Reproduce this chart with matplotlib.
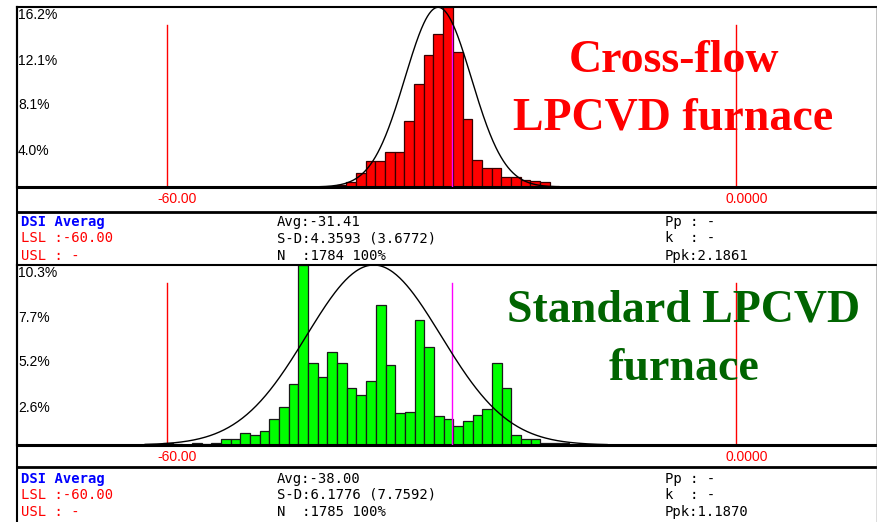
import numpy as np
import matplotlib
matplotlib.use("Agg")
import matplotlib.pyplot as plt
from matplotlib.lines import Line2D

W, H = 878, 522

bin_width = 1.02
x_min, x_max = -75.82, 14.87
target = -30.0
spec_vals = [-60.0, 0.0]
spec_labels = ["-60.00", "0.0000"]

# cross-flow furnace, % per bin
top_start = -42.1
top_pct = [0.14, 0.42, 1.29, 2.37, 2.37, 3.12, 3.12, 5.91, 9.27, 11.94, 13.77, 16.2,
           12.18, 6.15, 2.40, 1.68, 1.68, 0.93, 0.93, 0.60, 0.51, 0.45, 0.09]
top_ymax = 16.2
top_yticks = [16.2, 12.1, 8.1, 4.0]
top_mu, top_sd = -31.41, 3.5
top_curve_range = (-44.1, -18.6)

# standard furnace, % per bin
bot_start = -62.46
bot_pct = [0.06, 0.06, 0.11, 0.06, 0.0, 0.11, 0.06, 0.11, 0.32, 0.32, 0.67, 0.57,
           0.80, 1.49, 2.19, 3.49, 10.3, 4.71, 3.87, 5.32, 4.71, 3.28, 2.88, 3.64,
           8.01, 4.58, 1.81, 1.89, 7.17, 5.63, 1.68, 1.49, 1.11, 1.35, 1.74, 2.04,
           4.71, 3.28, 0.59, 0.32, 0.32, 0.11, 0.11, 0.11]
bot_ymax = 10.3
bot_yticks = [10.3, 7.7, 5.2, 2.6]
bot_mu, bot_sd = -38.2, 7.1
bot_curve_range = (-62.3, -13.6)

top_info = [["DSI Averag", "LSL :-60.00", "USL : -"],
            ["Avg:-31.41", "S-D:4.3593 (3.6772)", "N  :1784 100%"],
            ["Pp : -", "k  : -", "Ppk:2.1861"]]
bot_info = [["DSI Averag", "LSL :-60.00", "USL : -"],
            ["Avg:-38.00", "S-D:6.1776 (7.7592)", "N  :1785 100%"],
            ["Pp : -", "k  : -", "Ppk:1.1870"]]

tick_font = ["Liberation Sans Narrow", "Liberation Sans"]

fig = plt.figure(figsize=(W / 100, H / 100), dpi=100)


def fx(x):
    return x / W


def fy(y):
    return 1 - y / H


def hist_panel(y_top, y_base, start, pct, ymax, yticks, mu, sd, crange, color, edge):
    ax = fig.add_axes([fx(17), fy(y_base), 860 / W, (y_base - y_top) / H])
    left = start + bin_width * np.arange(len(pct))
    ax.bar(left, pct, width=bin_width, align="edge", color=color,
           edgecolor=edge, linewidth=0.9, zorder=2)
    xs = np.linspace(crange[0], crange[1], 400)
    ax.plot(xs, ymax * np.exp(-0.5 * ((xs - mu) / sd) ** 2), color="black",
            lw=1.0, zorder=4)
    for v in spec_vals:
        ax.axvline(v, ymax=0.9, color="red", lw=1, zorder=1)
    ax.axvline(target, ymax=0.9, color="magenta", lw=1, zorder=3)
    ax.set_xlim(x_min, x_max)
    ax.set_ylim(0, ymax)
    ax.set_xticks([])
    ax.set_yticks([])
    for v in yticks:
        ax.annotate("%.1f%%" % v, xy=(0, v), xycoords=("axes fraction", "data"),
                    xytext=(1, -1), textcoords="offset pixels", ha="left", va="top",
                    fontsize=10, family=tick_font, annotation_clip=False)
    for v, lab in zip(spec_vals, spec_labels):
        ax.annotate(lab, xy=(v, 0), xycoords=("data", "axes fraction"),
                    xytext=(-10, -12), textcoords="offset pixels", ha="left",
                    va="center", color="red", fontsize=10, family=tick_font,
                    annotation_clip=False)
    for s in ax.spines.values():
        s.set_linewidth(1.5)
    ax.spines["bottom"].set_linewidth(2.2)
    ax.spines["right"].set_color("#555555")
    ax.spines["right"].set_linewidth(1)
    return ax


hist_panel(7.3, 187, top_start, top_pct, top_ymax, top_yticks, top_mu, top_sd,
           top_curve_range, "#ff0000", "#3a0000")
hist_panel(265, 445, bot_start, bot_pct, bot_ymax, bot_yticks, bot_mu, bot_sd,
           bot_curve_range, "#00ff00", "#1a1a1a")


def info_block(info, rows_y):
    cols_x = [20.7, 276.7, 665]
    for c, col in enumerate(info):
        for r, txt in enumerate(col):
            if c == 0 and r == 0:
                color, weight = "#0000ff", "bold"
            elif c == 0:
                color, weight = "#ff0000", "normal"
            else:
                color, weight = "black", "normal"
            fig.text(fx(cols_x[c]), fy(rows_y[r]), txt, ha="left", va="center",
                     family="DejaVu Sans Mono", fontsize=10, color=color,
                     fontweight=weight)


info_block(top_info, [221.7, 238.3, 256])
info_block(bot_info, [479.3, 495, 511.7])

# frame lines
for y in [211.7, 466.7]:
    fig.add_artist(Line2D([fx(17), fx(877)], [fy(y), fy(y)], color="black", lw=2))
fig.add_artist(Line2D([fx(17), fx(17)], [fy(7), fy(522)], color="black", lw=1.5))
fig.add_artist(Line2D([fx(877), fx(877)], [fy(7), fy(522)], color="#555555", lw=1))

fig.text(fx(674), fy(72), "Cross-flow", ha="center", va="baseline", color="#ff0000",
         family="Liberation Serif", fontweight="bold", fontsize=33)
fig.text(fx(673.5), fy(130), "LPCVD furnace", ha="center", va="baseline",
         color="#ff0000", family="Liberation Serif", fontweight="bold", fontsize=33)
fig.text(fx(683.5), fy(321.7), "Standard LPCVD", ha="center", va="baseline",
         color="#006400", family="Liberation Serif", fontweight="bold", fontsize=33)
fig.text(fx(684.3), fy(380), "furnace", ha="center", va="baseline",
         color="#006400", family="Liberation Serif", fontweight="bold", fontsize=33)

fig.savefig("out.png", dpi=100)
